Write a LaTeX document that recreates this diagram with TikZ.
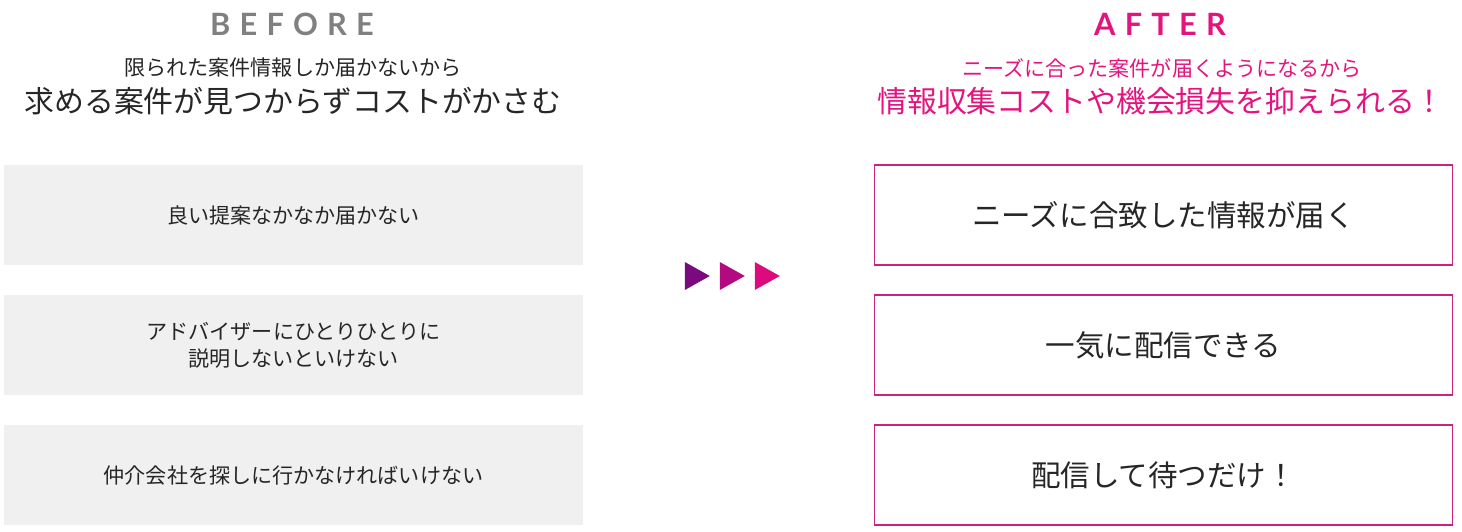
\documentclass[tikz,border=0pt]{standalone}
\usepackage{fontspec}
\setmainfont{Noto Sans CJK JP}
\newfontfamily\headfont[LetterSpace=30]{Lato}
\usepackage{xcolor}
\definecolor{cmpGray}{HTML}{808080}
\definecolor{cmpPink}{HTML}{E4147F}
\definecolor{cmpBorder}{HTML}{C8237F}
\definecolor{cmpBox}{HTML}{F0F0F0}
\definecolor{cmpText}{HTML}{262626}
\definecolor{triA}{HTML}{7A0A7E}
\definecolor{triB}{HTML}{B30A80}
\definecolor{triC}{HTML}{DC0A7C}
\usepackage{tikz}
\usetikzlibrary{shapes.geometric,positioning}
\tikzset{
    headword/.style={
        font=\headfont\bfseries\fontsize{17.5}{20}\selectfont,
        inner sep=0pt
    },
    subline/.style={
        font=\fontsize{12}{14}\selectfont,
        inner sep=0pt
    },
    mainline/.style={
        font=\fontsize{17}{20}\selectfont,
        inner sep=0pt
    },
    beforebox/.style={
        fill=cmpBox,
        rectangle,
        minimum width=11.58cm,
        minimum height=2cm,
        align=center,
        text=cmpText,
        font=\fontsize{12}{15.4}\selectfont
    },
    afterbox/.style={
        draw=cmpBorder,
        line width=0.6pt,
        fill=white,
        rectangle,
        minimum width=11.58cm,
        minimum height=2cm,
        align=center,
        text=cmpText,
        font=\fontsize{16.8}{20}\selectfont
    },
    tri/.style={
        isosceles triangle,
        isosceles triangle stretches,
        minimum width=0.56cm,
        minimum height=0.5cm,
        inner sep=0pt
    }
}
\begin{document}
\begin{tikzpicture}[x=0.02cm,y=-0.02cm]
    \useasboundingbox (0,0) rectangle (1462,531);

    % BEFORE side
    \node[headword, text=cmpGray] (before) at (292,24) {BEFORE};
    \node[subline, text=cmpText] (beforesub) at (293,68) {限られた案件情報しか届かないから};
    \node[mainline, text=cmpText] (beforemain) at (293,101) {求める案件が見つからずコストがかさむ};

    \node[beforebox] (b1) at (293.5,215) {良い提案なかなか届かない};
    \node[beforebox] (b2) at (293.5,345) {アドバイザーにひとりひとりに\\説明しないといけない};
    \node[beforebox] (b3) at (293.5,475) {仲介会社を探しに行かなければいけない};

    % arrows in the middle
    \node[tri, fill=triA] (t1) at (693,276) {};
    \node[tri, fill=triB] (t2) at (728,276) {};
    \node[tri, fill=triC] (t3) at (763,276) {};

    % AFTER side
    \node[headword, text=cmpPink] (after) at (1160,24) {AFTER};
    \node[subline, text=cmpPink] (aftersub) at (1162,68) {ニーズに合った案件が届くようになるから};
    \node[mainline, text=cmpPink] (aftermain) at (1161,101) {情報収集コストや機会損失を抑えられる！};

    \node[afterbox] (a1) at (1163.5,215) {ニーズに合致した情報が届く};
    \node[afterbox] (a2) at (1163.5,345) {一気に配信できる};
    \node[afterbox] (a3) at (1163.5,475) {配信して待つだけ！};
\end{tikzpicture}
\end{document}
